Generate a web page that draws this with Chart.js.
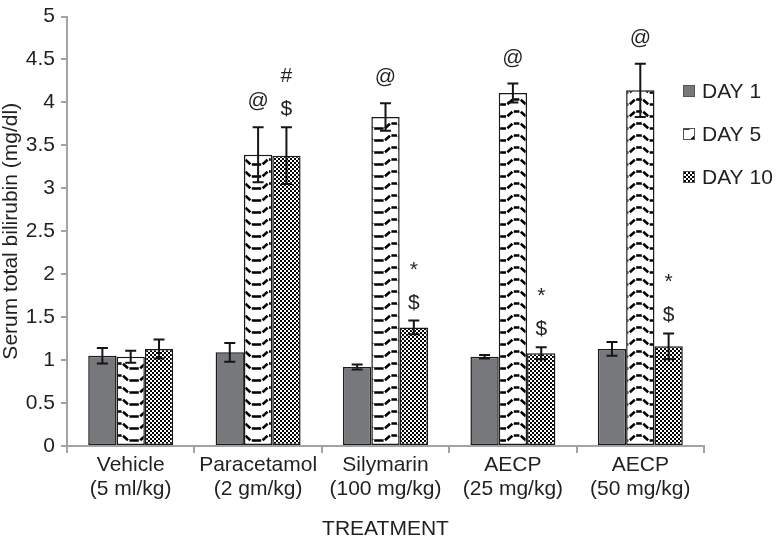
<!DOCTYPE html>
<html><head><meta charset="utf-8">
<script src="https://cdn.jsdelivr.net/npm/chart.js@4/dist/chart.umd.min.js"></script>
<style>html,body{margin:0;padding:0;background:#fff}canvas{display:block}</style>
</head><body>
<canvas id="c" width="777" height="540"></canvas>
<script>
// ---- data ----
const categories = [["Vehicle","(5 ml/kg)"],["Paracetamol","(2 gm/kg)"],["Silymarin","(100 mg/kg)"],["AECP","(25 mg/kg)"],["AECP","(50 mg/kg)"]];
const seriesNames = ["DAY 1","DAY 5","DAY 10"];
const day1 = [1.05,1.09,0.92,1.04,1.13];
const day1Err = [0.09,0.11,0.03,0.02,0.08];
const day5 = [1.04,3.39,3.83,4.11,4.14];
const day5Err = [0.07,0.32,0.16,0.11,0.31];
const day10 = [1.13,3.38,1.38,1.08,1.16];
const day10Err = [0.11,0.33,0.08,0.07,0.15];
const day1Marks = [[],[],[],[],[]];
const day5Marks = [[],["@"],["@"],["@"],["@"]];
const day10Marks = [[],["#","$"],["*","$"],["*","$"],["*","$"]];
const yMin = 0, yMax = 5, yStep = 0.5;
const xTitle = "TREATMENT";
const yTitle = "Serum total bilirubin (mg/dl)";

// ---- styles ----
const FONT = "'Liberation Sans', Arial, Helvetica, sans-serif";
const FS = 21;
const TXT = '#231f20';
const AXIS = '#a3a3a3';

function zigzagPattern(){
  const P=30.6, W=153, H=12;
  const c=document.createElement('canvas'); c.width=W; c.height=H;
  const g=c.getContext('2d');
  g.fillStyle='#fff'; g.fillRect(0,0,W,H);
  g.strokeStyle='#000'; g.lineWidth=2.6; g.lineCap='butt';
  const top=3.5, bot=8.5;
  for(let k=-1;k<=5;k++){
    const o=k*P;
    g.beginPath();
    g.moveTo(o+4.2,top+0.3); g.lineTo(o+9.2,bot-0.3);     // descending
    g.moveTo(o+10.6,bot); g.lineTo(o+20.0,bot);           // flat bottom
    g.moveTo(o+21.4,bot-0.3); g.lineTo(o+26.4,top+0.3);   // ascending
    g.moveTo(o+27.8,top); g.lineTo(o+P+2.8,top);          // flat top
    g.stroke();
  }
  const pat=g.createPattern(c,'repeat');
  if(pat.setTransform) pat.setTransform(new DOMMatrix().translateSelf(27,0));
  return pat;
}
function checkerPattern(){
  const c=document.createElement('canvas'); c.width=4; c.height=4;
  const g=c.getContext('2d');
  g.fillStyle='#fff'; g.fillRect(0,0,4,4);
  g.fillStyle='#000'; g.fillRect(0,0,2,2); g.fillRect(2,2,2,2);
  return g.createPattern(c,'repeat');
}

const errPlugin = {
  id:'errbars',
  afterDatasetsDraw(chart){
    const ctx=chart.ctx, ys=chart.scales.y;
    chart.data.datasets.forEach((ds,di)=>{
      const meta=chart.getDatasetMeta(di);
      meta.data.forEach((bar,i)=>{
        const v=ds.data[i], e=ds.errors[i];
        const x=bar.x;
        const yt=ys.getPixelForValue(v+e), yb=ys.getPixelForValue(v-e);
        ctx.save();
        ctx.strokeStyle='#151515'; ctx.lineWidth=2;
        ctx.beginPath();
        ctx.moveTo(x,yt); ctx.lineTo(x,yb);
        ctx.moveTo(x-5.5,yt); ctx.lineTo(x+5.5,yt);
        ctx.moveTo(x-5.5,yb); ctx.lineTo(x+5.5,yb);
        ctx.stroke();
        const marks=ds.marks[i];
        ctx.fillStyle=TXT; ctx.font=FS+'px '+FONT; ctx.textAlign='center'; ctx.textBaseline='alphabetic';
        for(let k=0;k<marks.length;k++){
          const fromBottom = marks.length-1-k;
          let base = yt - 12 - fromBottom*33;
          if(marks[k]==='@') base = yt - 20;
          ctx.fillText(marks[k], x, base);
        }
        ctx.restore();
      });
    });
  }
};

const legendPlugin = {
  id:'sideLegend',
  afterDraw(chart){
    const ctx=chart.ctx;
    const x0=683, rows=[91,134,177];
    chart.data.datasets.forEach((ds,i)=>{
      const cy=rows[i];
      ctx.save();
      ctx.fillStyle=ds.backgroundColor;
      ctx.fillRect(x0,cy-6,12,12);
      ctx.strokeStyle='#555'; ctx.lineWidth=1;
      ctx.strokeRect(x0+0.5,cy-5.5,11,11);
      ctx.fillStyle=TXT; ctx.font=FS+'px '+FONT; ctx.textAlign='left'; ctx.textBaseline='middle';
      ctx.fillText(ds.label, x0+19, cy+1);
      ctx.restore();
    });
  }
};

const common = {barPercentage:1.0, categoryPercentage:0.667, borderWidth:1.5, borderColor:'#1a1a1a', borderSkipped:false};

new Chart(document.getElementById('c'), {
  type:'bar',
  data:{
    labels:categories,
    datasets:[
      Object.assign({label:seriesNames[0], data:day1, errors:day1Err, marks:day1Marks, backgroundColor:'#77787c'}, common),
      Object.assign({label:seriesNames[1], data:day5, errors:day5Err, marks:day5Marks, backgroundColor:zigzagPattern()}, common),
      Object.assign({label:seriesNames[2], data:day10, errors:day10Err, marks:day10Marks, backgroundColor:checkerPattern()}, common)
    ]
  },
  options:{
    responsive:false, animation:false, devicePixelRatio:1,
    layout:{padding:{top:11,right:73,bottom:0,left:0}},
    plugins:{legend:{display:false}, tooltip:{enabled:false}},
    scales:{
      x:{
        offset:true,
        grid:{offset:true, drawOnChartArea:false, drawTicks:true, tickLength:7, color:AXIS, lineWidth:2},
        border:{display:true, color:AXIS, width:2},
        ticks:{color:TXT, font:{family:FONT,size:FS,lineHeight:1.15}, padding:0, autoSkip:false, maxRotation:0, minRotation:0},
        title:{display:true, text:xTitle, color:TXT, font:{family:FONT,size:FS,lineHeight:1}, padding:0},
        afterFit(s){ s.height=94; }
      },
      y:{
        min:yMin, max:yMax,
        ticks:{stepSize:yStep, color:TXT, font:{family:FONT,size:FS,lineHeight:1}, padding:6, callback:(v)=>String(v)},
        grid:{drawOnChartArea:false, drawTicks:true, tickLength:6, color:AXIS, lineWidth:2},
        border:{display:true, color:AXIS, width:2},
        title:{display:true, text:yTitle, color:TXT, font:{family:FONT,size:FS,lineHeight:1.1}, padding:{top:0,bottom:0}},
        afterFit(s){ s.width=67; }
      }
    }
  },
  plugins:[errPlugin, legendPlugin]
});
</script>
</body></html>
